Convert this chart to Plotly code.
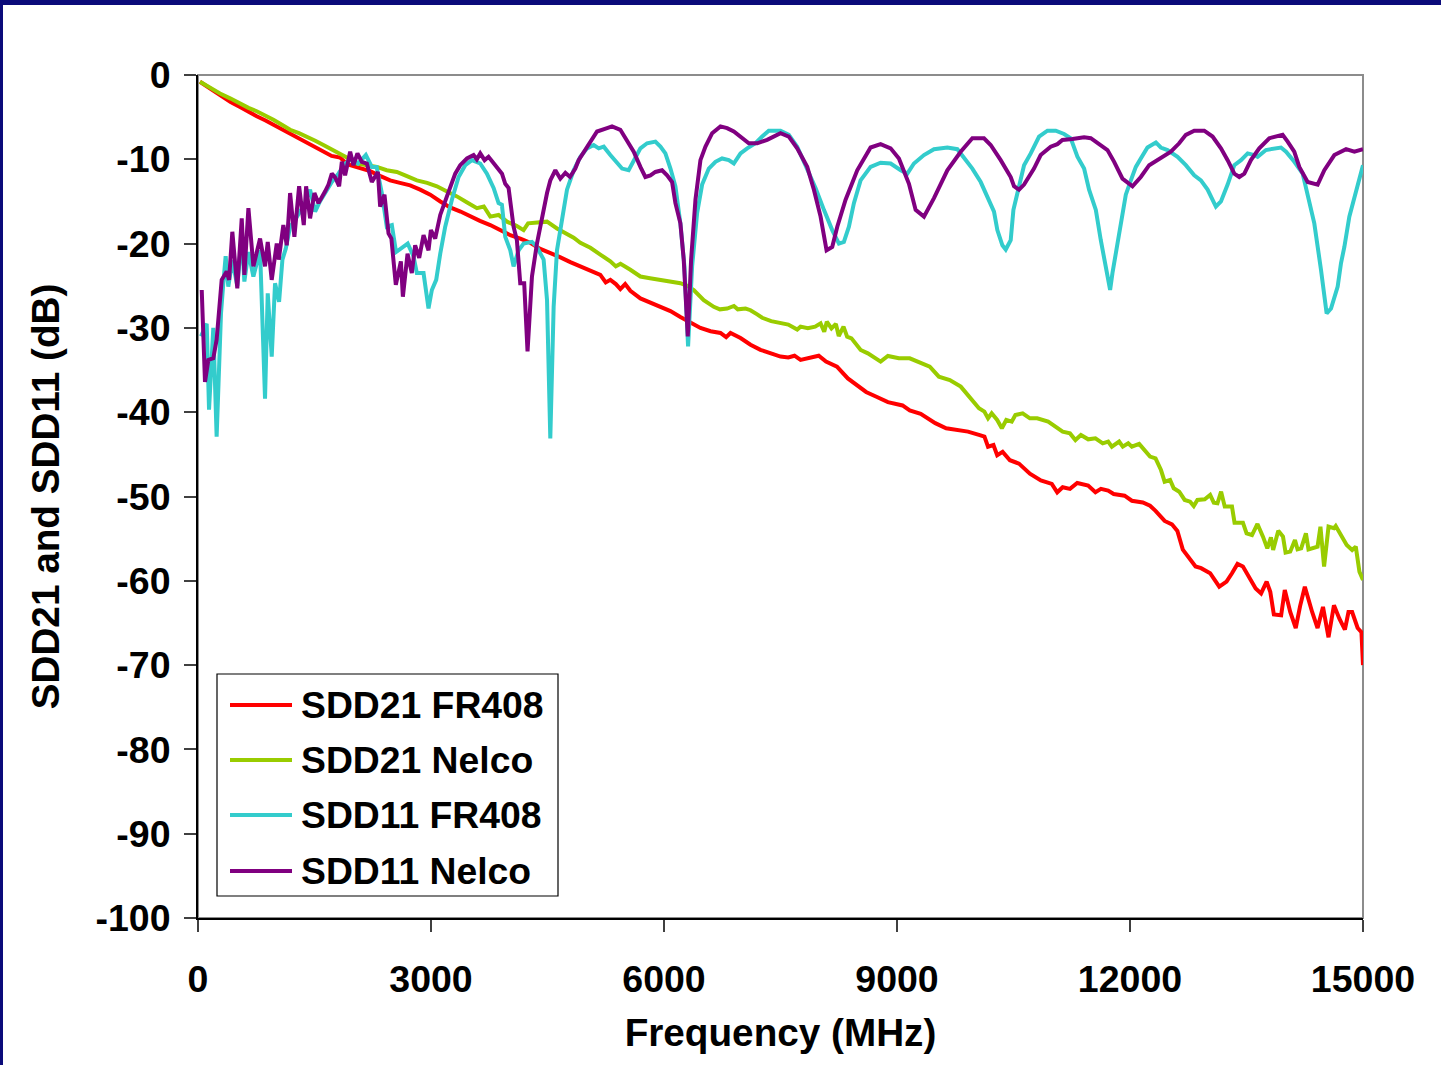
import plotly.graph_objects as go

# ---------------- data ----------------
fr408_21_f = [25,150,283,420,541,650,756,870,971,1080,1186,1300,1400,1500,1620,1720,1830,1900,1960,2090,
              2216,2350,2474,2600,2732,2860,2990,3120,3247,3380,3505,3630,3763,3890,4021,4150,4278,4400,4536,4660,
              4794,4920,5052,5180,5250,5309,5380,5438,5500,5567,5696,5820,5954,6083,6211,6340,6469,6600,6727,6800,
              6856,6985,7114,7242,7370,7500,7600,7680,7758,7992,8086,8227,8367,8461,8602,8742,8883,9071,9164,9305,
              9493,9633,9774,9914,10055,10126,10172,10242,10290,10360,10454,10571,10711,10852,10993,11063,11133,11227,11321,11461,
              11555,11626,11719,11790,11930,12024,12165,12258,12329,12446,12540,12610,12680,12774,12844,12915,13032,13149,13243,13313,
              13384,13454,13524,13618,13688,13759,13806,13852,13946,13993,14063,14134,14190,14251,14345,14415,14485,14556,14626,14696,
              14767,14813,14860,14931,14980,15000]
fr408_21_db = [-0.8,-1.6,-2.4,-3.2,-3.8,-4.4,-4.9,-5.4,-5.9,-6.4,-6.9,-7.4,-7.9,-8.5,-9.1,-9.6,-9.8,-10.4,-10.7,-11.0,
               -11.4,-12.0,-12.5,-12.8,-13.1,-13.6,-14.2,-15.0,-15.7,-16.2,-16.8,-17.3,-17.8,-18.4,-19.0,-19.4,-19.9,-20.6,-21.1,-21.6,
               -22.2,-22.7,-23.2,-23.7,-24.6,-24.3,-24.8,-25.4,-24.8,-25.6,-26.5,-27.0,-27.5,-28.0,-28.7,-29.4,-30.0,-30.4,-30.6,-31.1,
               -30.6,-31.2,-32.0,-32.6,-33.0,-33.4,-33.5,-33.3,-33.8,-33.3,-34.0,-34.6,-36.0,-36.6,-37.6,-38.2,-38.8,-39.2,-39.8,-40.2,
               -41.3,-41.9,-42.1,-42.3,-42.7,-42.9,-44.1,-43.9,-45.1,-44.7,-45.7,-46.1,-47.3,-48.1,-48.5,-49.5,-48.9,-49.1,-48.4,-48.7,
               -49.5,-49.1,-49.3,-49.7,-49.9,-50.5,-50.7,-51.1,-51.7,-52.9,-53.3,-54.1,-56.3,-57.5,-58.3,-58.5,-59.1,-60.7,-60.1,-59.1,
               -58.0,-58.3,-59.5,-60.9,-61.5,-60.1,-61.3,-64.0,-64.1,-61.1,-63.7,-65.6,-63.0,-60.7,-63.7,-65.6,-63.1,-66.7,-62.9,-64.5,
               -65.8,-63.7,-63.7,-65.6,-66.1,-70.0]

nelco_21_f = [25,150,283,420,541,650,756,870,971,1080,1186,1300,1400,1510,1615,1720,1830,1940,2045,2170,
              2303,2430,2560,2690,2818,2950,3076,3200,3334,3460,3591,3680,3763,3870,3978,4100,4192,4250,4350,4494,
              4622,4720,4837,4923,5052,5180,5309,5380,5440,5567,5696,5820,5954,6083,6211,6300,6383,6512,6641,6720,
              6813,6900,6950,7050,7114,7200,7264,7380,7500,7600,7715,7758,7852,7946,8016,8063,8096,8156,8213,8250,
              8311,8358,8414,8461,8532,8625,8696,8789,8883,9024,9164,9305,9422,9539,9680,9821,9961,10055,10125,10172,
              10219,10290,10350,10407,10477,10524,10618,10711,10805,10946,11040,11133,11227,11297,11368,11462,11555,11649,11719,11766,
              11860,11907,11977,12024,12118,12258,12329,12399,12446,12516,12563,12634,12704,12774,12821,12868,12962,13032,13079,13126,
              13173,13220,13313,13346,13454,13501,13571,13641,13712,13768,13815,13843,13909,13970,14003,14063,14124,14157,14204,14265,
              14298,14368,14415,14452,14499,14556,14626,14649,14720,14790,14860,14907,14954,15000]
nelco_21_db = [-0.8,-1.5,-2.2,-2.8,-3.4,-3.9,-4.3,-4.8,-5.3,-5.9,-6.5,-6.9,-7.3,-7.8,-8.3,-8.8,-9.3,-9.9,-10.5,-10.7,
               -10.9,-11.3,-11.5,-12.0,-12.5,-12.8,-13.2,-13.8,-14.4,-15.1,-15.8,-15.6,-16.8,-16.6,-17.4,-17.9,-18.4,-17.6,-17.5,-17.4,
               -18.2,-18.7,-19.3,-19.9,-20.5,-21.3,-22.1,-22.7,-22.4,-23.1,-23.9,-24.1,-24.3,-24.5,-24.7,-25.0,-25.5,-26.7,-27.5,-27.8,
               -27.7,-27.4,-27.8,-27.7,-27.9,-28.4,-28.8,-29.2,-29.4,-29.6,-30.2,-29.85,-30.05,-29.85,-29.46,-30.45,-29.26,-30.05,-29.54,-30.96,
               -29.85,-31.04,-31.24,-31.83,-32.62,-33.02,-33.41,-34.0,-33.33,-33.61,-33.61,-34.2,-34.6,-35.78,-36.18,-36.97,-38.55,-39.54,-39.93,-40.73,
               -40.13,-40.92,-41.91,-40.92,-41.12,-40.33,-40.13,-40.73,-40.73,-41.12,-41.72,-42.31,-42.51,-43.3,-42.7,-43.22,-43.1,-43.69,-43.49,-44.09,
               -43.49,-44.09,-43.69,-44.09,-43.77,-45.27,-45.47,-46.86,-48.24,-48.04,-49.03,-49.43,-50.41,-50.61,-51.13,-50.41,-50.33,-49.82,-50.73,-50.81,
               -49.43,-51.2,-51.2,-53.1,-53.1,-54.37,-54.57,-53.26,-54.76,-56.15,-54.84,-56.35,-54.05,-54.76,-56.66,-56.54,-55.16,-56.27,-56.15,-54.37,
               -56.27,-56.03,-55.95,-53.58,-58.32,-53.58,-53.77,-53.5,-54.76,-55.75,-56.35,-55.95,-58.92,-59.9]

fr408_11_f = [39,112,142,197,240,296,326,356,390,442,506,563,597,649,713,799,863,898,949,992,
              1044,1087,1130,1186,1250,1300,1379,1443,1508,1570,1637,1723,1808,1894,1980,2060,2161,2238,2300,2367,
              2431,2496,2550,2620,2700,2775,2818,2904,2968,3011,3067,3119,3183,3269,3355,3441,3527,3634,3720,3806,
              3870,3913,3956,4021,4063,4128,4192,4300,4364,4450,4494,4536,4579,4622,4687,4751,4837,4923,5009,5095,
              5160,5224,5309,5395,5460,5545,5610,5696,5782,5889,5954,6018,6083,6147,6211,6263,6310,6362,6426,6491,
              6577,6662,6748,6834,6899,6985,7071,7178,7264,7349,7500,7607,7715,7844,7951,8059,8166,8252,8316,8381,
              8445,8531,8660,8789,8918,9047,9133,9218,9347,9476,9648,9777,9863,9970,10078,10163,10249,10292,10357,10400,
              10464,10499,10550,10636,10722,10829,10937,11044,11151,11237,11323,11409,11473,11560,11624,11688,11744,11774,11839,11903,
              11946,12011,12075,12139,12225,12333,12397,12483,12612,12719,12827,12913,12999,13106,13171,13257,13343,13429,13515,13600,
              13643,13750,13858,13944,14009,14116,14223,14287,14373,14459,14502,14532,14588,14674,14717,14760,14824,14889,14953,15000]
fr408_11_db = [-31.0,-29.5,-39.7,-30.0,-42.9,-28.3,-24.7,-21.5,-25.1,-22.0,-25.0,-19.0,-24.5,-21.0,-23.9,-20.8,-38.4,-25.9,-33.4,-24.7,
               -26.9,-21.9,-20.6,-18.0,-17.2,-16.4,-15.2,-13.6,-16.2,-15.0,-14.0,-12.7,-11.7,-10.5,-9.9,-10.5,-9.5,-10.9,-10.9,-14.0,
               -18.0,-17.8,-21.0,-20.5,-20.0,-21.5,-23.5,-23.5,-27.7,-25.5,-24.3,-21.2,-18.0,-14.8,-12.1,-10.7,-10.1,-10.5,-11.7,-13.4,
               -15.2,-15.4,-19.2,-20.8,-22.7,-20.8,-20.0,-19.8,-20.4,-21.9,-26.7,-43.1,-27.5,-20.8,-16.8,-13.6,-11.3,-9.7,-8.7,-8.3,
               -8.7,-8.5,-9.5,-10.5,-11.1,-11.3,-10.1,-8.7,-8.1,-7.9,-8.5,-9.3,-11.1,-13.2,-17.6,-22.7,-32.2,-22.7,-16.4,-13.0,
               -11.1,-10.3,-9.9,-10.1,-10.5,-9.3,-8.7,-8.1,-7.3,-6.6,-6.6,-7.1,-8.5,-11.1,-13.4,-16.0,-18.4,-20.0,-19.8,-18.0,
               -15.2,-12.5,-10.9,-10.4,-10.5,-11.3,-11.7,-10.5,-9.5,-8.8,-8.6,-8.8,-9.8,-11.1,-12.7,-14.4,-16.2,-18.4,-20.2,-20.7,
               -19.6,-16.0,-14.0,-10.7,-9.3,-7.3,-6.6,-6.6,-7.0,-7.5,-9.7,-11.1,-13.6,-16.0,-19.6,-22.7,-25.5,-23.5,-20.0,-16.8,
               -14.2,-12.5,-10.9,-9.9,-8.6,-8.0,-8.6,-8.9,-9.7,-10.7,-11.9,-12.5,-13.6,-15.6,-15.0,-13.0,-10.7,-10.1,-9.3,-9.5,
               -9.7,-8.9,-8.7,-8.6,-9.1,-10.3,-11.7,-14.4,-17.6,-23.1,-26.3,-28.3,-27.7,-25.1,-22.3,-20.4,-16.8,-14.4,-12.5,-10.7]

nelco_11_f = [48,90,133,197,240,305,369,400,442,506,563,597,649,713,799,863,898,949,1014,1040,
              1099,1143,1186,1241,1302,1362,1392,1443,1499,1551,1637,1680,1723,1770,1817,1852,1894,1959,2002,2053,
              2109,2174,2238,2316,2345,2401,2453,2490,2547,2612,2638,2698,2753,2796,2848,2904,2968,2999,3054,3119,
              3205,3312,3376,3463,3548,3590,3634,3690,3741,3827,3914,3956,3999,4063,4106,4149,4200,4243,4300,4364,
              4429,4494,4536,4601,4665,4730,4790,4858,4901,5009,5138,5267,5331,5438,5524,5610,5696,5760,5825,5889,
              5975,6040,6104,6147,6211,6254,6306,6349,6405,6469,6534,6620,6727,6813,6899,7006,7092,7200,7328,7500,
              7607,7715,7844,7930,8016,8093,8166,8231,8338,8488,8660,8789,8918,9025,9154,9240,9347,9476,9648,9820,
              9970,10120,10206,10335,10464,10507,10571,10636,10764,10850,10979,11065,11130,11259,11409,11495,11624,11710,11796,11903,
              12032,12139,12247,12397,12526,12633,12719,12827,12956,13063,13171,13257,13343,13407,13472,13557,13664,13793,13965,14030,
              14115,14180,14287,14416,14502,14631,14782,14889,15000]
nelco_11_db = [-25.5,-36.4,-33.8,-33.6,-31.4,-24.3,-23.3,-24.3,-18.6,-25.3,-17.0,-23.7,-15.8,-22.7,-19.4,-22.7,-19.8,-24.3,-20.0,-21.9,
               -17.8,-20.2,-14.0,-19.2,-13.2,-17.8,-13.2,-17.0,-14.0,-15.2,-13.8,-13.0,-11.7,-12.2,-13.2,-10.3,-11.9,-9.1,-10.7,-9.3,
               -10.3,-10.5,-12.7,-11.5,-15.6,-14.2,-18.8,-19.4,-24.9,-22.1,-26.3,-21.2,-23.5,-20.2,-21.7,-19.0,-20.8,-18.4,-19.4,-16.6,
               -14.4,-11.7,-10.7,-9.9,-9.5,-10.0,-9.3,-10.1,-9.7,-10.7,-11.7,-12.9,-13.4,-18.0,-19.6,-24.7,-24.7,-32.8,-23.9,-20.0,
               -16.8,-14.0,-12.5,-11.3,-12.3,-11.6,-12.1,-11.1,-10.1,-8.5,-6.7,-6.3,-6.1,-6.5,-7.7,-9.1,-10.9,-12.1,-11.9,-11.5,
               -11.3,-11.9,-12.7,-15.2,-17.6,-21.9,-31.0,-21.9,-14.8,-10.1,-8.5,-6.9,-6.1,-6.3,-6.7,-7.5,-8.1,-8.1,-7.7,-6.9,
               -7.3,-8.7,-10.9,-13.6,-16.8,-20.8,-20.4,-18.0,-14.8,-11.3,-8.6,-8.2,-8.7,-9.9,-12.9,-16.0,-16.8,-14.6,-11.3,-9.1,
               -7.5,-7.5,-8.3,-10.1,-12.1,-13.2,-13.6,-13.0,-11.1,-9.5,-8.5,-8.2,-7.7,-7.6,-7.4,-7.5,-8.3,-8.9,-10.3,-12.3,
               -13.2,-12.1,-10.7,-9.9,-9.1,-8.1,-7.1,-6.6,-6.6,-7.3,-8.7,-10.1,-11.7,-12.1,-11.7,-10.1,-8.7,-7.5,-7.1,-7.9,
               -9.1,-10.9,-12.7,-13.0,-11.3,-9.5,-8.8,-9.1,-8.8]

series_names = ["SDD21 FR408", "SDD21 Nelco", "SDD11 FR408", "SDD11 Nelco"]
series_colors = ["#FF0000", "#99CC00", "#33CCCC", "#800080"]

x_tickvals = [0, 3000, 6000, 9000, 12000, 15000]
x_ticktext = ["0", "3000", "6000", "9000", "12000", "15000"]
y_tickvals = [0, -10, -20, -30, -40, -50, -60, -70, -80, -90, -100]
y_ticktext = ["0", "-10", "-20", "-30", "-40", "-50", "-60", "-70", "-80", "-90", "-100"]

x_title = "Frequency (MHz)"
y_title = "SDD21 and SDD11 (dB)"

# ---------------- layout geometry (pixels) ----------------
W, H = 1441, 1065
PL, PR, PT, PB = 198, 1363, 75, 918   # plot area edges


def px_x(px):
    return (px - PL) / (PR - PL)


def px_y(py):
    return (PB - py) / (PB - PT)


FONT = "Liberation Sans, Arial, sans-serif"
LW = 4
TICK_SIZE = 37.5
TITLE_SIZE = 38.7

fig = go.Figure()
data = [(fr408_21_f, fr408_21_db), (nelco_21_f, nelco_21_db),
        (fr408_11_f, fr408_11_db), (nelco_11_f, nelco_11_db)]
for (xs, ys), name, col in zip(data, series_names, series_colors):
    fig.add_trace(go.Scatter(x=xs, y=ys, mode="lines", name=name,
                             line=dict(color=col, width=LW), showlegend=False))

shapes = []
# gray frame of plot area
shapes.append(dict(type="rect", xref="paper", yref="paper", x0=0, x1=1, y0=0, y1=1,
                   line=dict(color="#8c8c8c", width=2), layer="below"))
# navy slide border (top and left)
shapes.append(dict(type="rect", xref="paper", yref="paper",
                   x0=px_x(0), x1=px_x(W), y0=px_y(5), y1=px_y(0),
                   fillcolor="#0b0b7a", line=dict(width=0)))
shapes.append(dict(type="rect", xref="paper", yref="paper",
                   x0=px_x(0), x1=px_x(3), y0=px_y(H), y1=px_y(0),
                   fillcolor="#0b0b7a", line=dict(width=0)))
# manual legend box
shapes.append(dict(type="rect", xref="paper", yref="paper",
                   x0=px_x(217), x1=px_x(558), y0=px_y(896), y1=px_y(674),
                   fillcolor="white", line=dict(color="black", width=1.2)))
annotations = []
row_y = [705, 760, 815, 871]
for name, col, ry in zip(series_names, series_colors, row_y):
    shapes.append(dict(type="line", xref="paper", yref="paper",
                       x0=px_x(230), x1=px_x(292), y0=px_y(ry), y1=px_y(ry),
                       line=dict(color=col, width=LW)))
    annotations.append(dict(xref="paper", yref="paper", x=px_x(299), y=px_y(ry),
                            xanchor="left", yanchor="middle", showarrow=False,
                            text=name, font=dict(family=FONT, size=37.3, color="black", weight="bold")))

fig.update_layout(
    width=W, height=H, autosize=False,
    margin=dict(l=PL, r=W - PR, t=PT, b=H - PB, pad=0),
    paper_bgcolor="white", plot_bgcolor="white",
    shapes=shapes, annotations=annotations, showlegend=False,
    xaxis=dict(range=[0, 15000], tickmode="array", tickvals=x_tickvals, ticktext=x_ticktext,
               showgrid=False, zeroline=False, showline=True, linecolor="black", linewidth=2,
               ticks="outside", ticklen=12, tickwidth=2, tickcolor="#404040",
               ticklabelstandoff=15,
               tickfont=dict(family=FONT, size=TICK_SIZE, color="black", weight="bold"),
               title=dict(text=x_title, standoff=20,
                          font=dict(family=FONT, size=TITLE_SIZE, color="black", weight="bold"))),
    yaxis=dict(range=[-100, 0], tickmode="array", tickvals=y_tickvals, ticktext=y_ticktext,
               showgrid=False, zeroline=False, showline=True, linecolor="black", linewidth=2,
               ticks="outside", ticklen=12, tickwidth=2, tickcolor="#404040",
               ticklabelstandoff=6,
               tickfont=dict(family=FONT, size=TICK_SIZE, color="black", weight="bold"),
               title=dict(text=y_title, standoff=24,
                          font=dict(family=FONT, size=TITLE_SIZE, color="black", weight="bold"))),
)

fig.write_html("out.html", config={"displayModeBar": False},
               post_script="document.body.style.margin='0px';")
